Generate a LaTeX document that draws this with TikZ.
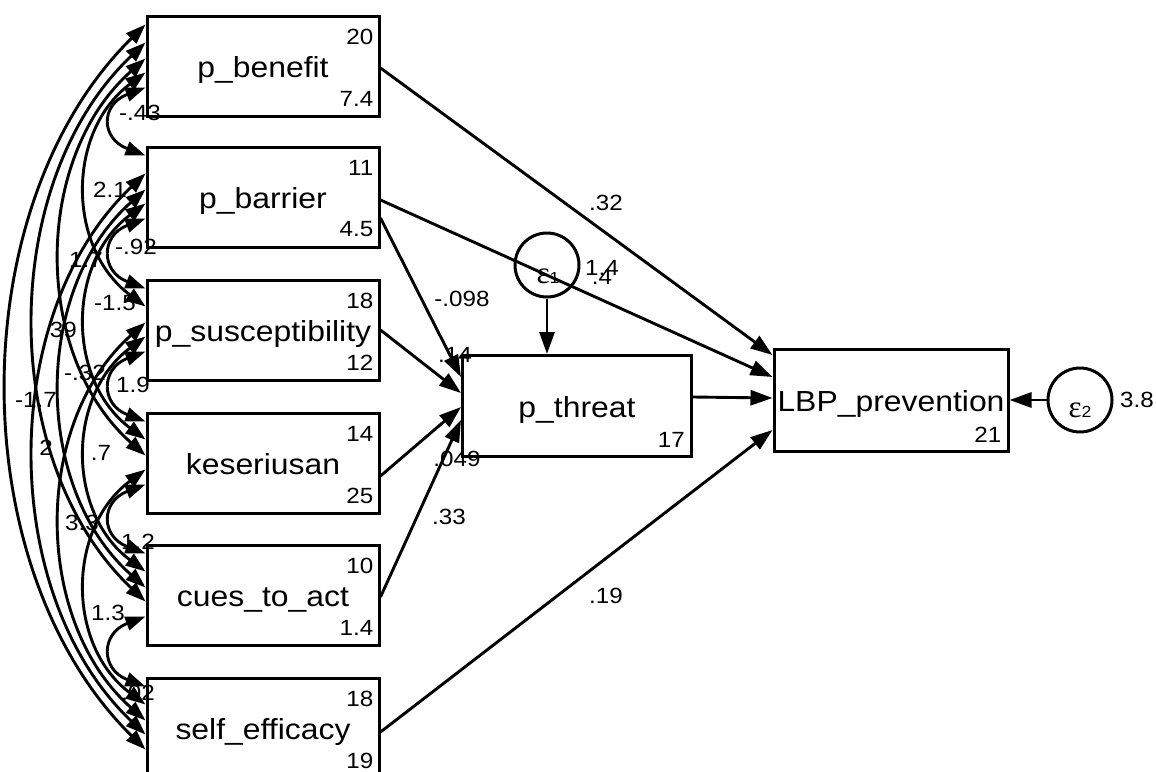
\documentclass[tikz,border=0pt]{standalone}
\usepackage{fontspec}
\setmainfont[FakeStretch=1.1]{Liberation Sans}
\newfontfamily\epsfont{Liberation Serif}
\usepackage{tikz}
\usetikzlibrary{positioning,calc,arrows.meta}
\newcommand\epsidx[1]{{\normalfont\fontsize{16}{16}\selectfont #1}}

\begin{document}
\begin{tikzpicture}[x=1pt, y=-1pt,
    var/.style={draw, line width=3pt, minimum width=232pt, minimum height=100pt, inner sep=0pt,
        font=\fontsize{29}{29}\selectfont, text height=24pt, text depth=2pt},
    err/.style={draw, circle, line width=3pt, minimum size=64pt, inner sep=0pt},
    eps/.style={inner sep=0pt, font=\epsfont\fontsize{31}{31}\selectfont},
    est/.style={inner sep=0pt, font=\fontsize{22}{22}\selectfont},
    reg/.style={line width=2.9pt, -{Triangle[length=22pt,width=15pt]}},
    cov/.style={line width=2.9pt, {Triangle[length=20pt,width=14pt]}-{Triangle[length=20pt,width=14pt]}}]
    \clip (0,0) rectangle (1156,771);

    % observed variables
    \node[var] (ben) at (263,66) {p\_benefit};
    \node[var] (bar) at (263,197) {p\_barrier};
    \node[var] (sus) at (263,330) {p\_susceptibility};
    \node[var] (kes) at (263,463) {keseriusan};
    \node[var] (cue) at (263,595) {cues\_to\_act};
    \node[var] (sel) at (263,728) {self\_efficacy};
    \node[var, minimum width=229pt, minimum height=101pt] (thr) at (577,406) {p\_threat};
    \node[var, minimum width=234pt, minimum height=102pt] (lbp) at (891,400) {LBP\_prevention};

    % intercepts and variances
    \node[est, anchor=east] (ben-m) at ($(ben.north east)+(-7,22)$) {20};
    \node[est, anchor=east] (ben-v) at ($(ben.south east)+(-7,-19)$) {7.4};
    \node[est, anchor=east] (bar-m) at ($(bar.north east)+(-7,22)$) {11};
    \node[est, anchor=east] (bar-v) at ($(bar.south east)+(-7,-19)$) {4.5};
    \node[est, anchor=east] (sus-m) at ($(sus.north east)+(-7,22)$) {18};
    \node[est, anchor=east] (sus-v) at ($(sus.south east)+(-7,-19)$) {12};
    \node[est, anchor=east] (kes-m) at ($(kes.north east)+(-7,22)$) {14};
    \node[est, anchor=east] (kes-v) at ($(kes.south east)+(-7,-19)$) {25};
    \node[est, anchor=east] (cue-m) at ($(cue.north east)+(-7,22)$) {10};
    \node[est, anchor=east] (cue-v) at ($(cue.south east)+(-7,-19)$) {1.4};
    \node[est, anchor=east] (sel-m) at ($(sel.north east)+(-7,22)$) {18};
    \node[est, anchor=east] (sel-v) at ($(sel.south east)+(-7,-19)$) {19};
    \node[est, anchor=east] (thr-m) at ($(thr.south east)+(-8,-18)$) {17};
    \node[est, anchor=east] (lbp-m) at ($(lbp.south east)+(-8,-18)$) {21};

    % errors
    \node[err] (e1) at (547,265) {};
    \node[err] (e2) at (1080,400) {};
    \node[eps] (e1-t) at (548,276) {ε\epsidx{1}};
    \node[eps] (e2-t) at (1080,410) {ε\epsidx{2}};
    \node[est] (e1-v) at (602,268) {1.4};
    \node[est] (e2-v) at (1137,400) {3.8};

    % path coefficients
    \node[est] (c-ben-lbp) at (606,203) {.32};
    \node[est] (c-bar-lbp) at (602,277) {.4};
    \node[est] (c-bar-thr) at (462,299) {-.098};
    \node[est] (c-sus-thr) at (455,355) {.14};
    \node[est] (c-kes-thr) at (457,459) {.049};
    \node[est] (c-cue-thr) at (449,517) {.33};
    \node[est] (c-sel-lbp) at (606,596) {.19};

    % covariances
    \node[est] (r12) at (140,113) {-.43};
    \node[est] (r13) at (110,190) {2.1};
    \node[est] (r23) at (136,247) {-.92};
    \node[est] (r14) at (86,260) {1.7};
    \node[est] (r24) at (115,303) {-1.5};
    \node[est] (r15) at (60,330) {.39};
    \node[est] (r25) at (85,373) {-.32};
    \node[est] (r34) at (133,385) {1.9};
    \node[est] (r16) at (36,400) {-1.7};
    \node[est] (r26) at (46,448) {2};
    \node[est] (r35) at (101,453) {.7};
    \node[est] (r36) at (82,523) {3.3};
    \node[est] (r45) at (138,542) {1.2};
    \node[est] (r46) at (108,613) {1.3};
    \node[est] (r56) at (138,693) {.02};

    \draw[reg] ($(ben.east)+(0,2)$) -- ($(lbp.west)+(0,-45)$);
    \draw[reg] ($(bar.east)+(0,3)$) -- ($(lbp.west)+(0,-23)$);
    \draw[reg] ($(bar.east)+(0,21)$) -- ($(thr.west)+(0,-29)$);
    \draw[reg] (sus.east) -- ($(thr.west)+(0,-13)$);
    \draw[reg] ($(kes.east)+(0,13)$) -- ($(thr.west)+(0,1)$);
    \draw[reg] ($(cue.east)+(0,2)$) -- ($(thr.west)+(0,14)$);
    \draw[reg] ($(sel.east)+(0,4)$) -- ($(lbp.west)+(0,30)$);
    \draw[reg] ($(thr.east)+(0,-9)$) -- ($(lbp.west)+(0,-2)$);
    \draw[reg] (e1) -- (e1 |- thr.north);
    \draw[reg] (e2) -- (lbp.east);

    \draw[cov] ($(ben.north west)+(0,73)$) .. controls +(-45,17) and +(-45,-17) .. ($(bar.north west)+(0,10)$);
    \draw[cov] ($(ben.north west)+(0,58)$) .. controls +(-79,59) and +(-79,-59) .. ($(sus.north west)+(0,28)$);
    \draw[cov] ($(ben.north west)+(0,44)$) .. controls +(-113,100) and +(-113,-100) .. ($(kes.north west)+(0,44)$);
    \draw[cov] ($(ben.north west)+(0,28)$) .. controls +(-148,140) and +(-148,-140) .. ($(cue.north west)+(0,58)$);
    \draw[cov] ($(ben.north west)+(0,10)$) .. controls +(-184,181) and +(-184,-181) .. ($(sel.north west)+(0,73)$);
    \draw[cov] ($(bar.north west)+(0,73)$) .. controls +(-45,17) and +(-45,-17) .. ($(sus.north west)+(0,10)$);
    \draw[cov] ($(bar.north west)+(0,58)$) .. controls +(-79,59) and +(-79,-59) .. ($(kes.north west)+(0,28)$);
    \draw[cov] ($(bar.north west)+(0,44)$) .. controls +(-113,100) and +(-113,-100) .. ($(cue.north west)+(0,44)$);
    \draw[cov] ($(bar.north west)+(0,28)$) .. controls +(-148,140) and +(-148,-140) .. ($(sel.north west)+(0,58)$);
    \draw[cov] ($(sus.north west)+(0,73)$) .. controls +(-45,17) and +(-45,-17) .. ($(kes.north west)+(0,10)$);
    \draw[cov] ($(sus.north west)+(0,58)$) .. controls +(-79,59) and +(-79,-59) .. ($(cue.north west)+(0,28)$);
    \draw[cov] ($(sus.north west)+(0,44)$) .. controls +(-113,100) and +(-113,-100) .. ($(sel.north west)+(0,44)$);
    \draw[cov] ($(kes.north west)+(0,73)$) .. controls +(-45,17) and +(-45,-17) .. ($(cue.north west)+(0,10)$);
    \draw[cov] ($(kes.north west)+(0,58)$) .. controls +(-79,59) and +(-79,-59) .. ($(sel.north west)+(0,28)$);
    \draw[cov] ($(cue.north west)+(0,73)$) .. controls +(-45,17) and +(-45,-17) .. ($(sel.north west)+(0,10)$);
\end{tikzpicture}
\end{document}
